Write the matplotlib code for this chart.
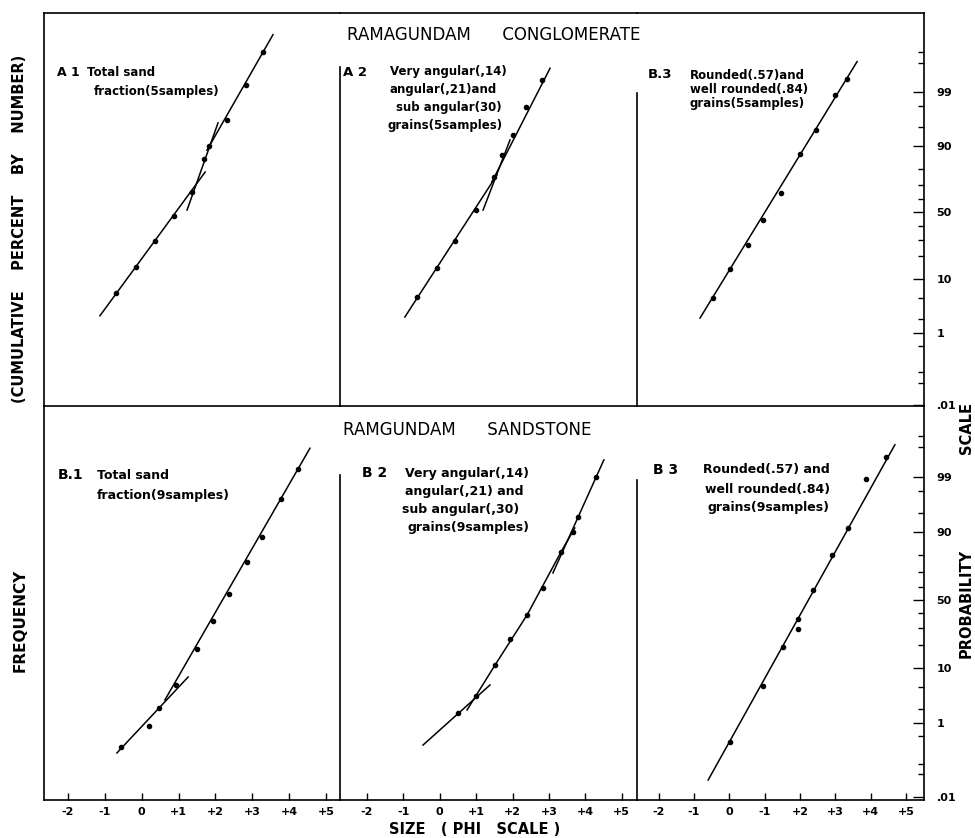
import numpy as np
import matplotlib
matplotlib.use('Agg')
import matplotlib.pyplot as plt
from statistics import NormalDist

# probability paper: percent -> normal quantile and back
nd = NormalDist()


def probit(p):
    p = np.clip(np.asarray(p, dtype=float) / 100.0, 1e-9, 1 - 1e-9)
    return np.vectorize(nd.inv_cdf, otypes=[float])(p)


def cum_pct(z):
    return 100.0 * np.vectorize(nd.cdf, otypes=[float])(np.asarray(z, dtype=float))


# ---- data ----
phi_ticks = [-2, -1, 0, 1, 2, 3, 4, 5]
phi_labels = ['-2', '-1', '0', '+1', '+2', '+3', '+4', '+5']
phi_labels_b3 = ['-2', '-1', '0', '-1', '+2', '+3', '+4', '+5']
prob_ticks = [0.01, 1, 10, 50, 90, 99]
prob_labels = ['.01', '1', '10', '50', '90', '99']
prob_minor = [0.05, 0.1, 0.5, 2, 5, 20, 30, 40, 60, 70, 80, 95, 98, 99.8, 99.9]

# A1 total sand fraction (conglomerate)
a1_phi = [-0.70, -0.15, 0.36, 0.88, 1.36, 1.69, 1.83, 2.31, 2.83, 3.29]
a1_pct = [6.0, 14.6, 29.0, 47.2, 65.3, 84.9, 90.0, 96.3, 99.3, 99.9]
a1_lines = [([-1.13, 1.72], [2.3, 78.2]),
            ([1.23, 2.07], [51.8, 95.8]),
            ([1.77, 3.56], [88.5, 99.97])]

# A2 angular grains (conglomerate)
a2_phi = [-0.63, -0.08, 0.42, 0.99, 1.49, 1.71, 2.01, 2.37, 2.81]
a2_pct = [5.1, 14.2, 29.0, 51.8, 75.3, 86.6, 93.2, 97.9, 99.47]
a2_lines = [([-0.96, 1.57], [2.17, 76.5]),
            ([1.19, 1.93], [51.8, 91.9]),
            ([1.43, 3.03], [72.1, 99.73])]

# B.3 rounded grains (conglomerate)
a3_phi = [-0.46, 0.02, 0.53, 0.96, 1.47, 2.01, 2.46, 3.34, 3.00]
a3_pct = [4.9, 13.7, 26.5, 44.1, 64.6, 87.0, 94.4, 99.5, 98.8]
a3_lines = [([-0.83, 3.62], [2.07, 99.82])]

# B.1 total sand fraction (sandstone)
b1_phi = [-0.56, 0.20, 0.47, 0.93, 1.50, 1.93, 2.37, 2.85, 3.26, 3.78, 4.24]
b1_pct = [0.28, 0.87, 2.08, 5.44, 17.7, 34.6, 54.5, 76.3, 88.3, 97.2, 99.33]
b1_lines = [([-0.67, 1.26], [0.195, 7.31]),
            ([0.63, 4.56], [2.96, 99.79])]

# B2 angular grains (sandstone)
b2_phi = [0.49, 0.99, 1.52, 1.93, 2.40, 2.84, 3.33, 3.66, 3.80, 4.29]
b2_pct = [1.65, 3.51, 11.0, 23.1, 38.9, 58.9, 81.7, 90.0, 94.1, 98.99]
b2_lines = [([-0.46, 1.38], [0.31, 5.44]),
            ([0.75, 1.52, 2.40, 3.33, 3.71], [1.90, 11.0, 38.9, 81.7, 91.3]),
            ([3.11, 4.51], [69.5, 99.59])]

# B3 rounded grains (sandstone)
b3_phi = [0.02, 0.96, 1.52, 1.95, 1.95, 2.37, 2.91, 3.37, 3.87, 4.44]
b3_pct = [0.37, 5.23, 18.8, 36.0, 29.2, 57.5, 80.2, 91.3, 98.88, 99.65]
b3_lines = [([-0.60, 4.69], [0.034, 99.83])]

# ---- layout (pixels of a 975x838 image) ----
W, H = 975, 838
col_x = [44, 340, 637, 924]
row_y = [13, 406, 800]
col_xlim = [(-2.646, 5.375), (-2.742, 5.42), (-2.615, 5.515)]
row_zlim = [(-3.737, 3.849), (-3.774, 3.66)]
# top end of the vertical separators (percent), per row, for columns 1 and 2
sep_top = [[99.75, 98.93], [99.09, 98.82]]

fig = plt.figure(figsize=(W / 100, H / 100), dpi=100)
plt.rcParams['font.family'] = ['DejaVu Sans']


def fx(x):
    return x / W


def fy(y):
    return 1 - y / H


panels = [
    (0, 0, a1_phi, a1_pct, a1_lines),
    (0, 1, a2_phi, a2_pct, a2_lines),
    (0, 2, a3_phi, a3_pct, a3_lines),
    (1, 0, b1_phi, b1_pct, b1_lines),
    (1, 1, b2_phi, b2_pct, b2_lines),
    (1, 2, b3_phi, b3_pct, b3_lines),
]

lw = 1.2
for row, col, phi, pct, lines in panels:
    x0, x1 = col_x[col], col_x[col + 1]
    y0, y1 = row_y[row], row_y[row + 1]
    ax = fig.add_axes([fx(x0), fy(y1), (x1 - x0) / W, (y1 - y0) / H])
    ax.set_yscale('function', functions=(probit, cum_pct))
    lo = float(cum_pct(row_zlim[row][0]))
    hi = float(cum_pct(row_zlim[row][1]))
    ax.set_ylim(lo, hi)
    ax.set_xlim(*col_xlim[col])

    for seg_phi, seg_pct in lines:
        ax.plot(seg_phi, seg_pct, color='black', lw=1.1)
    ax.plot(phi, pct, 'o', color='black', ms=3.0)

    # frame pieces
    for s in ax.spines.values():
        s.set_linewidth(lw)
    ax.spines['top'].set_visible(row == 0)
    ax.spines['right'].set_visible(col == 2)
    if col > 0:
        ax.spines['left'].set_bounds(lo, sep_top[row][col - 1])

    # x ticks only on the lower row
    if row == 1:
        ax.set_xticks(phi_ticks, labels=phi_labels_b3 if col == 2 else phi_labels)
        ax.tick_params(axis='x', direction='in', length=5, width=1, pad=5,
                       labelsize=8)
        for t in ax.get_xticklabels():
            t.set_fontweight('bold')
    else:
        ax.set_xticks([])

    # probability scale on the right edge
    if col == 2:
        ax.yaxis.tick_right()
        ax.set_yticks(prob_ticks, labels=prob_labels)
        ax.set_yticks(prob_minor, minor=True)
        ax.tick_params(axis='y', which='major', direction='in', length=8,
                       width=1, pad=9, labelsize=8)
        ax.tick_params(axis='y', which='minor', direction='in', length=4.5,
                       width=1)
        for t in ax.get_yticklabels():
            t.set_fontweight('bold')
    else:
        ax.set_yticks([])
        ax.set_yticks([], minor=True)
    ax.patch.set_alpha(0)


def label(x, y, s, size=8.5, weight='bold', **kw):
    fig.text(fx(x), fy(y), s, fontsize=size, fontweight=weight, va='center', **kw)


# titles of the two rows
label(494, 35, 'RAMAGUNDAM      CONGLOMERATE', size=12, weight='normal', ha='center')
label(467, 430, 'RAMGUNDAM      SANDSTONE', size=12, weight='normal', ha='center')

# panel notes, upper row
label(57, 72, 'A 1', size=9)
label(87, 72, 'Total sand')
label(94, 91, 'fraction(5samples)')
label(343, 72, 'A 2', size=9.5)
label(390, 72, 'Very angular(,14)')
label(390, 89, 'angular(,21)and')
label(396, 107, 'sub angular(30)')
label(387, 126, 'grains(5samples)')
label(648, 75, 'B.3', size=9.5)
label(690, 75, 'Rounded(.57)and', size=8.5)
label(690, 89, 'well rounded(.84)', size=8.5)
label(690, 103, 'grains(5samples)', size=8.5)

# panel notes, lower row
label(58, 475, 'B.1', size=10)
label(97, 475, 'Total sand', size=9)
label(97, 495, 'fraction(9samples)', size=9)
label(362, 473, 'B 2', size=10)
label(405, 473, 'Very angular(,14)', size=9)
label(405, 491, 'angular(,21) and', size=9)
label(402, 509, 'sub angular(,30)', size=9)
label(408, 527, 'grains(9samples)', size=9)
label(653, 470, 'B 3', size=10)
label(703, 469, 'Rounded(.57) and', size=9)
label(705, 489, 'well rounded(.84)', size=9)
label(708, 507, 'grains(9samples)', size=9)

# axis titles
label(20, 229, '(CUMULATIVE    PERCENT    BY    NUMBER)', size=10.5, rotation=90, ha='center')
label(20, 620, 'FREQUENCY', size=11, rotation=90, ha='center')
label(966, 428, 'SCALE', size=10.5, rotation=90, ha='center')
label(966, 603, 'PROBABILITY', size=10.5, rotation=90, ha='center')
label(475, 829, 'SIZE   ( PHI   SCALE )', size=10.5, ha='center')

fig.savefig('out.png', dpi=100, facecolor='white')
